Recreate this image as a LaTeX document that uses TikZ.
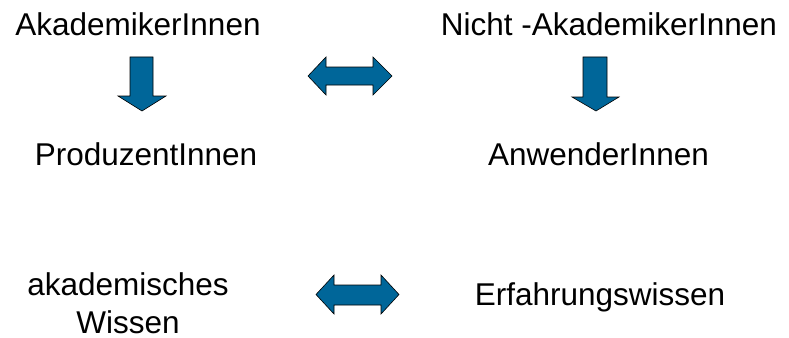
\documentclass[tikz,border=0pt]{standalone}
\usepackage{fontspec}
\setmainfont{Liberation Sans}
\begin{document}
\begin{tikzpicture}[x=1pt,y=-1pt,
  lbl/.style={inner sep=0pt,anchor=base,font=\fontsize{31.5}{38}\selectfont},
  blockarrow/.style={fill=arrowblue,draw=black,line width=0.6pt,line join=miter}]
\definecolor{arrowblue}{HTML}{006699}
\useasboundingbox (0,0) rectangle (789,337);
\node[lbl] (akad) at (138,36) {AkademikerInnen};
\node[lbl] (nakad) at (609,36) {Nicht -AkademikerInnen};
\node[lbl] (prod) at (146,165) {ProduzentInnen};
\node[lbl] (anw) at (598.5,165) {AnwenderInnen};
\node[lbl,align=center] (akwiss) at (128,333) {akademisches\\Wissen};
\node[lbl] (erf) at (600,305) {Erfahrungswissen};
% down arrows
\draw[blockarrow] (130,57) -- (153,57) -- (153,96) -- (166,96) -- (142,111) -- (118,96) -- (130,96) -- cycle;
\draw[blockarrow] (583,57) -- (607,57) -- (607,97) -- (619,97) -- (596,111) -- (572,97) -- (583,97) -- cycle;
% double arrows
\draw[blockarrow] (308,76) -- (326,57) -- (326,67) -- (373,67) -- (373,57) -- (392,76) -- (373,95) -- (373,85) -- (326,85) -- (326,95) -- cycle;
\draw[blockarrow] (316,294.5) -- (334,275) -- (334,285) -- (381,285) -- (381,275) -- (399,294.5) -- (381,314) -- (381,305) -- (334,305) -- (334,314) -- cycle;
\end{tikzpicture}
\end{document}
